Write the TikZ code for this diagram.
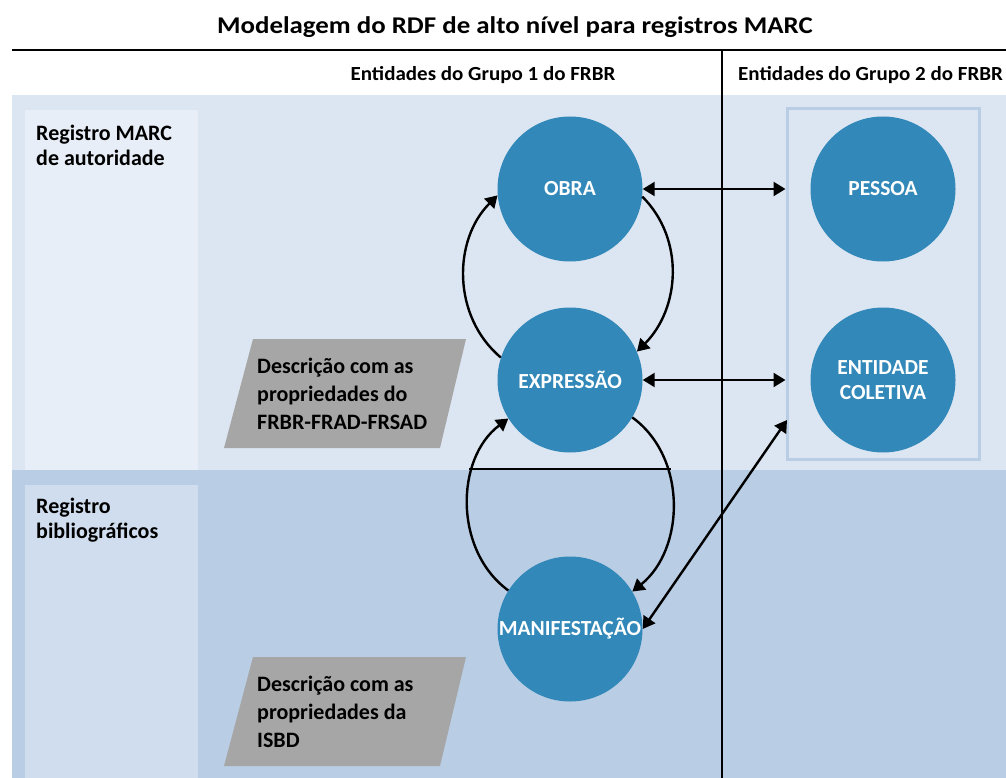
\documentclass[tikz,border=0pt]{standalone}
\usepackage{fontspec}
\setmainfont{Carlito}
\newfontfamily\titlefont{Carlito}[FakeStretch=1.12]
\newfontfamily\headfont{Carlito}[FakeStretch=1.05]
\usetikzlibrary{arrows.meta, positioning, calc}
\definecolor{bandtop}{RGB}{220, 230, 242}
\definecolor{bandbot}{RGB}{185, 205, 229}
\definecolor{paneltop}{RGB}{231, 238, 247}
\definecolor{panelbot}{RGB}{208, 221, 238}
\definecolor{entblue}{RGB}{50, 136, 184}
\definecolor{descgray}{RGB}{166, 166, 166}

\tikzset{
  entity/.style={circle, fill=entblue, minimum size=145pt, inner sep=0pt, text=white, align=center, font=\fontsize{21.5}{25}\selectfont\bfseries},
  rowlabel/.style={anchor=west, inner sep=0pt, align=left, font=\fontsize{22}{25}\selectfont\bfseries},
  desctext/.style={anchor=west, inner sep=0pt, align=left, font=\fontsize{22}{28}\selectfont\bfseries},
  rel/.style={line width=2.4pt, -{Triangle[length=12pt, width=14pt]}},
  relboth/.style={line width=2.4pt, {Triangle[length=12pt, width=14pt]}-{Triangle[length=12pt, width=14pt]}},
}

\begin{document}
\begin{tikzpicture}[x=1pt, y=1pt]
  \useasboundingbox (0, 0) rectangle (1006, -778);
  \fill[white] (0, 0) rectangle (1006, -778);

  % Title and column headers
  \node[font=\titlefont\fontsize{24}{28}\selectfont\bfseries] (title) at (515, -27) {Modelagem do RDF de alto nível para registros MARC};
  \draw[line width=2.5pt] (12, -50) -- (1006, -50);
  \node[font=\headfont\fontsize{20}{24}\selectfont\bfseries] (grp1head) at (483, -75) {Entidades do Grupo 1 do FRBR};
  \node[anchor=west, inner sep=0pt, font=\headfont\fontsize{20}{24}\selectfont\bfseries] (grp2head) at (738, -75) {Entidades do Grupo 2 do FRBR};

  % Bands and row panels
  \fill[bandtop] (12, -95) rectangle (1006, -470);
  \fill[bandbot] (12, -470) rectangle (1006, -778);
  \fill[paneltop] (25, -110) rectangle (198, -470);
  \fill[panelbot] (25, -485) rectangle (198, -778);
  \node[rowlabel] (authrow) at (36, -145.5) {Registro MARC\\de autoridade};
  \node[rowlabel] (biblrow) at (36, -520) {Registro\\bibliográficos};

  % Descriptions
  \fill[descgray] (253, -339) -- (466, -339) -- (440, -448) -- (224, -448) -- cycle;
  \node[desctext] (descfrbr) at (257, -393.5) {Descrição com as\\propriedades do\\FRBR-FRAD-FRSAD};
  \fill[descgray] (253, -657) -- (466, -657) -- (440, -766) -- (224, -766) -- cycle;
  \node[desctext] (descisbd) at (257, -712) {Descrição com as\\propriedades da\\ISBD};

  % Group divider
  \draw[line width=1.5pt] (722, -50) -- (722, -778);

  % Group 2 box
  \node[draw=bandbot, line width=3pt, minimum width=192pt, minimum height=350pt] (grp2) at (883, -284) {};

  % Entities
  \node[entity] (obra) at (570, -189) {OBRA};
  \node[entity] (expr) at (570, -380) {EXPRESSÃO};
  \node[entity] (manif) at (570, -629) {MANIFESTAÇÃO};
  \node[entity] (pessoa) at (883, -189) {PESSOA};
  \node[entity] (coletiva) at (883, -380) {ENTIDADE\\COLETIVA};

  % Relations
  \draw[relboth] (obra.east) -- (obra.east -| grp2.west);
  \draw[relboth] (expr.east) -- (expr.east -| grp2.west);
  \coordinate (grpin) at (787, -420);
  \draw[relboth] (manif.east) -- (grpin);

  \draw[rel] (obra.-6) to[out=-45, in=45] (expr.23);
  \draw[rel] (expr.162) to[out=140, in=-135] (obra.185);
  \draw[rel] (expr.-31) to[out=-36, in=39] (manif.31);
  \draw[rel] (manif.148) to[out=144, in=-143] (expr.-148);

  \coordinate (chordL) at (469, -469);
  \coordinate (chordR) at (671, -469);
  \draw[line width=1.5pt] (chordL) -- (chordR);
\end{tikzpicture}
\end{document}
